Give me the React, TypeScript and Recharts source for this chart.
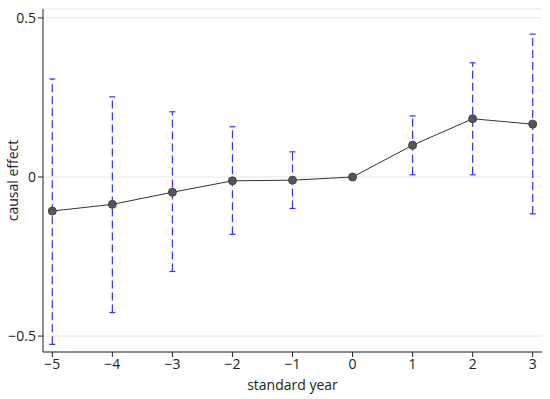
import React from "react";
import { CartesianGrid, ComposedChart, ErrorBar, Line, XAxis, YAxis } from "recharts";

const years = [-5, -4, -3, -2, -1, 0, 1, 2, 3];
const effect = [-0.107, -0.086, -0.048, -0.012, -0.01, 0.0, 0.1, 0.183, 0.166];
const ciLow = [-0.526, -0.426, -0.297, -0.18, -0.099, 0.0, 0.007, 0.007, -0.116];
const ciHigh = [0.308, 0.252, 0.205, 0.158, 0.079, 0.0, 0.192, 0.359, 0.449];

const xTicks = [-5, -4, -3, -2, -1, 0, 1, 2, 3];
const yTicks = [-0.5, 0, 0.5];

const data = years.map((year, i) => ({
  year,
  effect: effect[i],
  err: [effect[i] - ciLow[i], ciHigh[i] - effect[i]],
}));

const fmt = (v: number) => String(v).replace("-", "\u2212");
const font = "'Open Sans', 'DejaVu Sans', sans-serif";

export default function App() {
  return (
    <div style={{ position: "fixed", left: 0, top: 0, background: "#fff" }}>
      <ComposedChart
        width={550}
        height={399}
        data={data}
        margin={{ top: 9, right: 8, bottom: 0, left: 0 }}
      >
        <CartesianGrid vertical={false} stroke="#e6e6e6" />
        <XAxis
          dataKey="year"
          type="number"
          domain={[-5.155, 3.155]}
          ticks={xTicks}
          tickFormatter={fmt}
          height={47}
          stroke="#222"
          tickSize={5}
          tick={{ fill: "#222", fontSize: 14, fontFamily: font }}
          label={{
            value: "standard year",
            position: "insideBottom",
            offset: 9,
            fill: "#222",
            fontSize: 14,
            fontFamily: font,
          }}
        />
        <YAxis
          type="number"
          domain={[-0.55, 0.528]}
          ticks={yTicks}
          tickFormatter={fmt}
          width={43}
          stroke="#222"
          tickSize={5}
          tick={{ fill: "#222", fontSize: 14, fontFamily: font }}
          label={{
            value: "causal effect",
            angle: -90,
            position: "insideLeft",
            offset: 13,
            style: { textAnchor: "middle" },
            fill: "#222",
            fontSize: 14,
            fontFamily: font,
          }}
        />
        <Line
          dataKey="effect"
          stroke="#333"
          strokeWidth={1}
          dot={{ r: 4, fill: "#555", stroke: "#444", strokeWidth: 1 }}
          isAnimationActive={false}
        />
        <Line dataKey="effect" stroke="none" dot={false} isAnimationActive={false}>
          <ErrorBar
            dataKey="err"
            direction="y"
            width={3}
            stroke="#3333ee"
            strokeWidth={1.2}
            strokeDasharray="8 4"
          />
        </Line>
      </ComposedChart>
    </div>
  );
}
